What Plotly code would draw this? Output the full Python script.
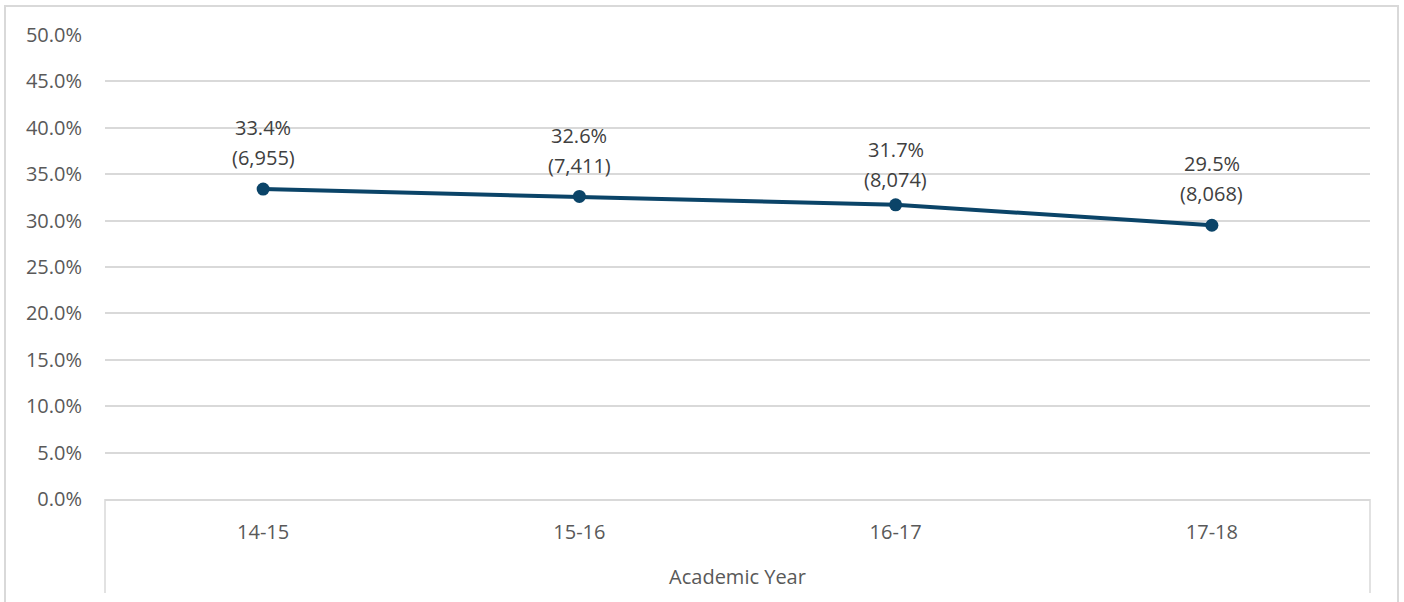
import plotly.graph_objects as go

# Share of students by academic year, with headcount
years = ["14-15", "15-16", "16-17", "17-18"]
rates = [0.334, 0.326, 0.317, 0.295]
counts = [6955, 7411, 8074, 8068]

# vertical offset (px) of each headcount label's centre above its point
label_shift = [32, 31, 25, 32]
LINE_GAP = 30  # spacing between the two label lines

LINE = "#0B4468"
TEXT = "#595959"
LABEL = "#404040"
GRID = "#D9D9D9"
FONT = "Open Sans"
FS = 20

fig = go.Figure()
fig.add_trace(go.Scatter(
    x=years, y=rates, mode="lines+markers",
    line=dict(color=LINE, width=4),
    marker=dict(color=LINE, size=13),
    hoverinfo="skip", showlegend=False,
))

for yr, r, c, s in zip(years, rates, counts, label_shift):
    for txt, shift in ((f"{r*100:.1f}%", s + LINE_GAP), (f"({c:,})", s)):
        fig.add_annotation(
            x=yr, y=r, xref="x", yref="y",
            text=txt, showarrow=False, yanchor="middle", yshift=shift,
            font=dict(family=FONT, size=FS, color=LABEL),
        )

W, H = 1404, 602
L, R, T, B = 105, 34, 35, 103
pw, ph = W - L - R, H - T - B

def px_x(x):
    return (x - L) / pw

def px_y(y):
    return (H - B - y) / ph

shapes = [
    # outer chart border
    dict(type="rect", xref="paper", yref="paper",
         x0=px_x(5), x1=px_x(1398), y0=px_y(640), y1=px_y(6),
         line=dict(color=GRID, width=2), layer="below"),
    # category axis side rules
    dict(type="line", xref="paper", yref="paper",
         x0=0, x1=0, y0=0, y1=px_y(593), line=dict(color=GRID, width=1.5)),
    dict(type="line", xref="paper", yref="paper",
         x0=1, x1=1, y0=0, y1=px_y(593), line=dict(color=GRID, width=1.5)),
]

fig.update_layout(
    width=W, height=H,
    margin=dict(l=L, r=R, t=T, b=B),
    paper_bgcolor="white", plot_bgcolor="white",
    font=dict(family=FONT, size=FS, color=TEXT),
    shapes=shapes,
    xaxis=dict(
        type="category", range=[-0.5, 3.5],
        showgrid=False, showline=True, linecolor=GRID, linewidth=1.5,
        ticks="", ticklabelstandoff=14,
        tickfont=dict(family=FONT, size=FS, color=TEXT),
        title=dict(text="Academic Year", standoff=26,
                   font=dict(family=FONT, size=FS, color=TEXT)),
    ),
    yaxis=dict(
        range=[0, 0.5], dtick=0.05, tickformat=".1%",
        showgrid=True, gridcolor=GRID, gridwidth=1.5,
        zeroline=False, showline=False, ticks="",
        ticklabelstandoff=22,
        tickfont=dict(family=FONT, size=FS, color=TEXT),
    ),
)

fig.write_html("out.html")
